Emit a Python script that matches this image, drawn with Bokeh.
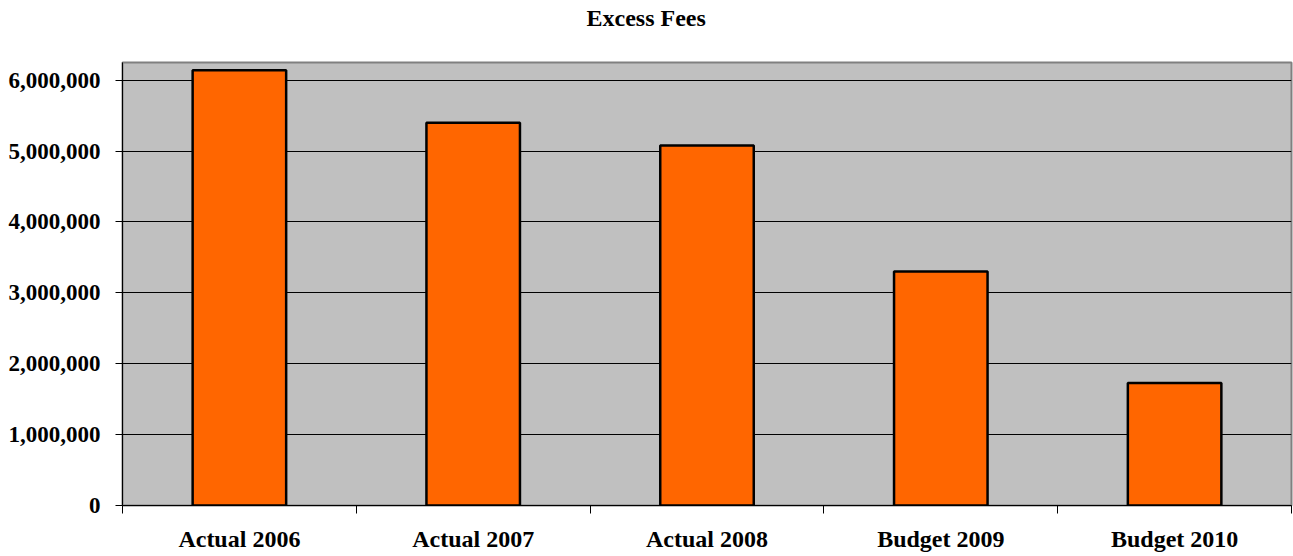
from bokeh.plotting import figure
from bokeh.models import ColumnDataSource, FixedTicker, NumeralTickFormatter, Range1d
from bokeh.embed import file_html
from bokeh.resources import INLINE

# ---- data ----
categories = ["Actual 2006", "Actual 2007", "Actual 2008", "Budget 2009", "Budget 2010"]
values = [6140000, 5400000, 5080000, 3300000, 1730000]
y_ticks = [0, 1000000, 2000000, 3000000, 4000000, 5000000, 6000000]
title_text = "Excess Fees"

FONT = "Liberation Serif"

centers = [i + 0.5 for i in range(len(categories))]
bounds = [float(i) for i in range(len(categories) + 1)]
src = ColumnDataSource(dict(x=centers, top=values, cat=categories))

p = figure(width=1293, height=556,
           x_range=Range1d(0, len(categories)), y_range=Range1d(0, 6250000),
           output_backend="svg", toolbar_location=None,
           min_border_left=122, min_border_right=2, min_border_top=62, min_border_bottom=51)

p.background_fill_color = "#C0C0C0"
p.border_fill_color = "white"
p.outline_line_color = "#808080"
p.outline_line_width = 2

p.vbar(x="x", top="top", bottom=0, width=0.4, source=src,
       fill_color="#FF6600", line_color="black", line_width=2.5)

# title (a blank second line gives the title box the height of the white band above the plot)
p.title.text = title_text + "\n "
p.title.text_font = FONT
p.title.text_font_style = "bold"
p.title.text_font_size = "24px"
p.title.text_color = "black"
p.title.align = "left"
p.title.offset = 464
p.title.vertical_align = "top"
p.title.standoff = 7

# x axis
xa = p.xaxis[0]
xa.ticker = FixedTicker(ticks=centers, minor_ticks=bounds)
xa.major_label_overrides = {c: lab for c, lab in zip(centers, categories)}
xa.major_tick_out = 0
xa.major_tick_in = 0
xa.minor_tick_out = 8
xa.minor_tick_in = 0
xa.minor_tick_line_color = "black"
xa.axis_line_color = "black"
xa.major_label_standoff = 12
xa.major_label_text_font = FONT
xa.major_label_text_font_style = "bold"
xa.major_label_text_font_size = "24px"
xa.major_label_text_line_height = 0.9
xa.major_label_text_color = "black"

# y axis
ya = p.yaxis[0]
ya.ticker = FixedTicker(ticks=y_ticks)
ya.formatter = NumeralTickFormatter(format="0,0")
ya.major_tick_out = 7
ya.major_tick_in = 0
ya.minor_tick_out = 0
ya.minor_tick_in = 0
ya.major_tick_line_color = "black"
ya.axis_line_color = "black"
ya.major_label_standoff = 15
ya.major_label_text_font = FONT
ya.major_label_text_font_style = "bold"
ya.major_label_text_font_size = "23px"
ya.major_label_text_color = "black"

p.xgrid.visible = False
p.ygrid.grid_line_color = "black"
p.ygrid.grid_line_width = 1

open("out.html", "w").write(file_html(p, INLINE))
